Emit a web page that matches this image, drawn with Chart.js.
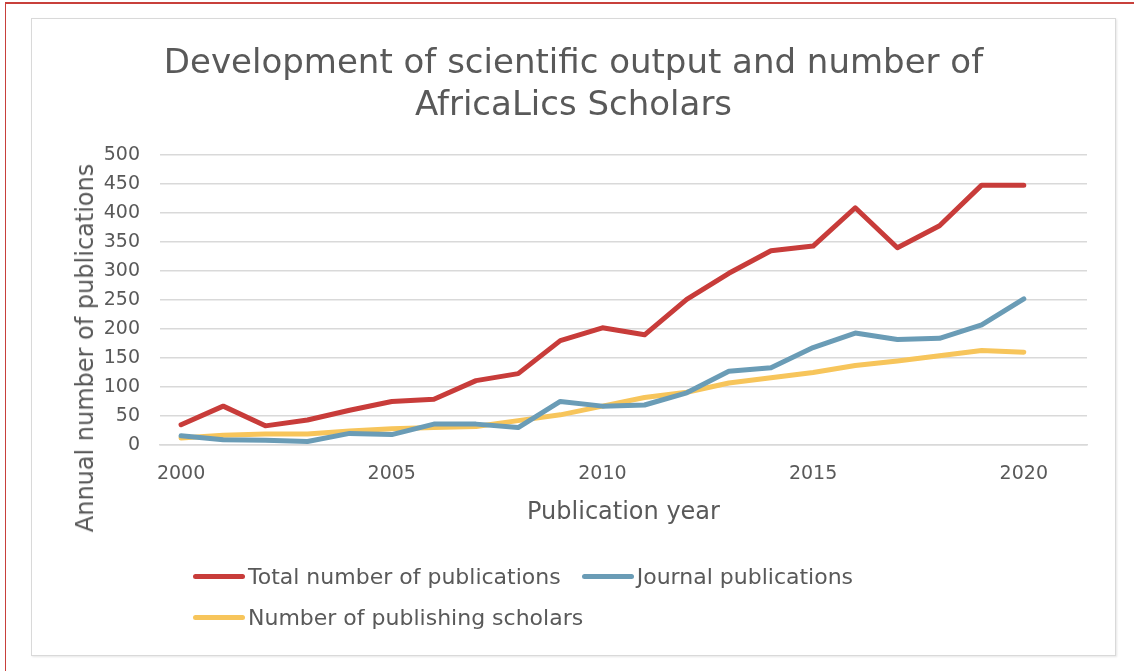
<!DOCTYPE html>
<html>
<head>
<meta charset="utf-8">
<script src="https://cdn.jsdelivr.net/npm/chart.js@4/dist/chart.umd.min.js"></script>
<style>
  body { margin: 0; background: #fff; width: 1134px; height: 671px; overflow: hidden; position: relative; font-family: "DejaVu Sans", sans-serif; }
  #frame { position: absolute; left: 5px; top: 2px; right: 0; bottom: 0; border-top: 2px solid #c8403b; border-left: 1.5px solid #c8403b; }
  #box { position: absolute; left: 31px; top: 18px; width: 1083px; height: 636px; border: 1.5px solid #d9d9d9; box-shadow: 1px 1px 2px #e6e6e6; background: #fff; }
  #wrap { position: absolute; left: 60px; top: 19px; width: 1055px; height: 636px; }
  #ytitle { position: absolute; left: 85px; top: 348px; transform: translate(-50%, -50%) rotate(-90deg); white-space: nowrap; color: #595959; font-size: 24px; }
  #legend { position: absolute; left: 193px; top: 556px; width: 720px; display: flex; flex-wrap: wrap; color: #595959; font-size: 22px; }
  .item { display: flex; align-items: center; height: 41px; margin-right: 21px; }
  .swatch { width: 52px; height: 5px; border-radius: 3px; margin-right: 3px; }
</style>
</head>
<body>
<div id="frame"></div>
<div id="box"></div>
<div id="wrap"><canvas id="chart" width="1055" height="636"></canvas></div>
<div id="ytitle">Annual number of publications</div>
<div id="legend"></div>
<script>
const years = [2000, 2001, 2002, 2003, 2004, 2005, 2006, 2007, 2008, 2009, 2010,
  2011, 2012, 2013, 2014, 2015, 2016, 2017, 2018, 2019, 2020, 2021];
const totalPubs = [35, 67, 33, 43, 60, 75, 79, 111, 123, 180, 202,
  190, 251, 296, 335, 343, 409, 340, 378, 448, 448];
const journalPubs = [16, 9, 8, 6, 20, 18, 36, 36, 30, 75, 67,
  69, 90, 127, 133, 168, 193, 182, 184, 207, 252];
const scholars = [12, 17, 19, 19, 24, 28, 30, 32, 42, 52, 67,
  82, 91, 107, 116, 125, 137, 145, 154, 163, 160];
const yTicks = [0, 50, 100, 150, 200, 250, 300, 350, 400, 450, 500];

const textColor = "#595959";
const gridColor = "#d9d9d9";
const fontFamily = "'DejaVu Sans', sans-serif";

const datasets = [
  { label: "Total number of publications", data: totalPubs, borderColor: "#c83c3a" },
  { label: "Journal publications", data: journalPubs, borderColor: "#6a9cb6" },
  { label: "Number of publishing scholars", data: scholars, borderColor: "#f7c55b" },
].map((d) => ({
  ...d,
  backgroundColor: d.borderColor,
  borderWidth: 5,
  borderJoinStyle: "round",
  borderCapStyle: "round",
  pointRadius: 0,
  pointHoverRadius: 0,
  tension: 0,
  fill: false,
}));

const chart = new Chart(document.getElementById("chart"), {
  type: "line",
  data: { labels: years.map(String), datasets: datasets },
  options: {
    responsive: false,
    animation: false,
    layout: { padding: { left: 0, right: 28, top: 0, bottom: 0 } },
    plugins: {
      legend: { display: false },
      tooltip: { enabled: false },
      title: {
        display: true,
        text: ["Development of scientific output and number of", "AfricaLics Scholars"],
        color: textColor,
        font: { family: fontFamily, size: 34, weight: "normal", lineHeight: 1.235 },
        padding: { top: 24, bottom: 28 },
      },
    },
    scales: {
      x: {
        type: "category",
        offset: true,
        grid: { display: false, drawTicks: false },
        border: { display: true, color: gridColor, width: 1.5 },
        ticks: {
          autoSkip: false,
          maxRotation: 0,
          padding: 18,
          color: textColor,
          font: { family: fontFamily, size: 19 },
          callback: function (v, i) {
            return years[i] % 5 === 0 ? String(years[i]) : null;
          },
        },
        title: {
          display: true,
          text: "Publication year",
          color: textColor,
          font: { family: fontFamily, size: 24, lineHeight: 1.2 },
          padding: { top: 0, bottom: 127.6 },
        },
        afterFit: (scale) => { scale.height = 210; },
      },
      y: {
        min: yTicks[0],
        max: yTicks[yTicks.length - 1],
        grid: { color: gridColor, lineWidth: 1.5, drawTicks: false },
        border: { display: false },
        afterBuildTicks: (scale) => { scale.ticks = yTicks.map((v) => ({ value: v })); },
        ticks: {
          padding: 20,
          color: textColor,
          font: { family: fontFamily, size: 19 },
        },
        afterFit: (scale) => { scale.width = 100; },
      },
    },
  },
});

// legend in HTML, built from the chart's datasets
const legend = document.getElementById("legend");
chart.data.datasets.forEach((ds) => {
  const item = document.createElement("div");
  item.className = "item";
  const sw = document.createElement("span");
  sw.className = "swatch";
  sw.style.background = ds.borderColor;
  const txt = document.createElement("span");
  txt.textContent = ds.label;
  item.appendChild(sw);
  item.appendChild(txt);
  legend.appendChild(item);
});
</script>
</body>
</html>
